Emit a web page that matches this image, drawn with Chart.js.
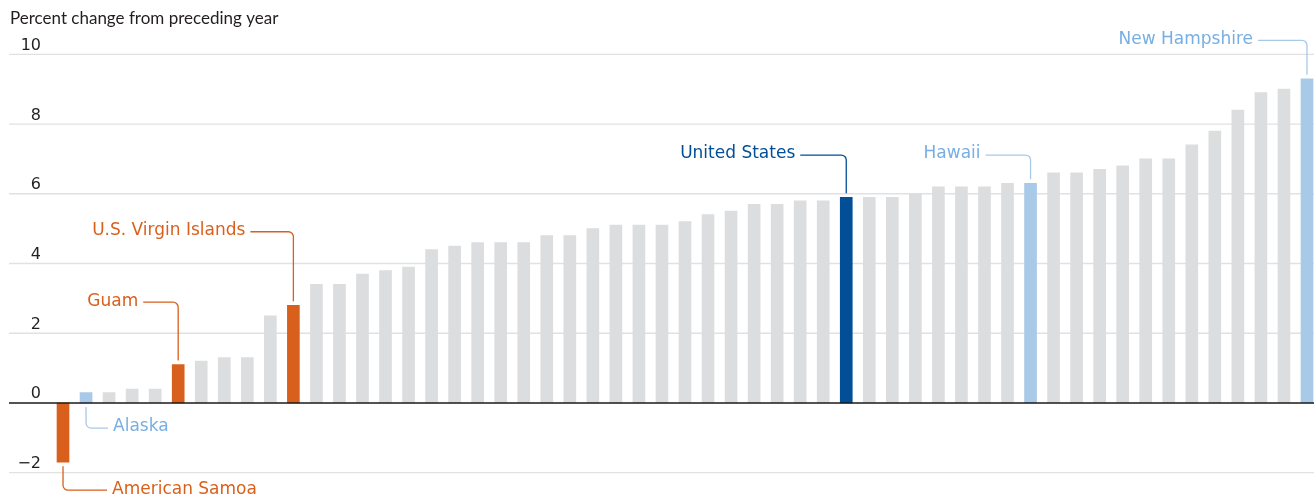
<!DOCTYPE html>
<html>
<head>
<meta charset="utf-8">
<script src="https://cdn.jsdelivr.net/npm/chart.js@4.4.1/dist/chart.umd.min.js"></script>
<style>
  html, body { margin: 0; padding: 0; background: #fff; overflow: hidden; }
  #wrap { position: relative; width: 1320px; height: 499px; }
</style>
</head>
<body>
<div id="wrap"><canvas id="chart"></canvas></div>
<script>
// one bar per place, sorted by percent change; unnamed bars are unlabelled states
const places = [
  'American Samoa', 'Alaska', '', '', '', 'Guam', '', '', '', '', 'U.S. Virgin Islands',
  '', '', '', '', '', '', '', '', '', '', '', '', '', '', '', '', '', '', '', '', '', '', '',
  'United States', '', '', '', '', '', '', '', 'Hawaii', '', '', '', '', '', '', '', '', '', '', '',
  'New Hampshire'
];
const pctChange = [
  -1.7, 0.3, 0.3, 0.4, 0.4, 1.1, 1.2, 1.3, 1.3, 2.5, 2.8,
  3.4, 3.4, 3.7, 3.8, 3.9, 4.4, 4.5, 4.6, 4.6, 4.6, 4.8, 4.8, 5.0, 5.1, 5.1, 5.1, 5.2, 5.4, 5.5, 5.7, 5.7, 5.8, 5.8,
  5.9, 5.9, 5.9, 6.0, 6.2, 6.2, 6.2, 6.3, 6.3, 6.6, 6.6, 6.7, 6.8, 7.0, 7.0, 7.4, 7.8, 8.4, 8.9, 9.0,
  9.3
];
const territories = ['American Samoa', 'Guam', 'U.S. Virgin Islands'];
const calledOut = ['Alaska', 'Hawaii', 'New Hampshire'];
const nation = 'United States';

const yTicks = [-2, 0, 2, 4, 6, 8, 10];
const yTickLabels = ['\u22122', '0', '2', '4', '6', '8', '10'];
const axisTitle = 'Percent change from preceding year';

const ORANGE = '#d9601c';
const NAVY = '#024e97';
const SKY = '#a9c9e8';
const SKY_TEXT = '#78aee2';
const GREY = '#dcdddf';

function barColor(name) {
  if (territories.includes(name)) return ORANGE;
  if (calledOut.includes(name)) return SKY;
  if (name === nation) return NAVY;
  return GREY;
}

// callouts: where the leader elbows (in axis units), which side the text sits on, arm length
const callouts = [
  { name: 'American Samoa', at: -2.5, side: 'right', arm: 44 },
  { name: 'Alaska', at: -0.72, side: 'right', arm: 22 },
  { name: 'Guam', at: 2.89, side: 'left', arm: 35 },
  { name: 'U.S. Virgin Islands', at: 4.91, side: 'left', arm: 43 },
  { name: 'United States', at: 7.11, side: 'left', arm: 46 },
  { name: 'Hawaii', at: 7.11, side: 'left', arm: 45 },
  { name: 'New Hampshire', at: 10.4, side: 'left', arm: 49 }
];

const LABEL_FONT = '17px "DejaVu Sans"';

const frame = {
  id: 'frame',
  beforeDatasetsDraw(chart) {
    const {ctx, width, scales: {y}} = chart;
    ctx.save();
    ctx.strokeStyle = '#e1e1e1';
    ctx.lineWidth = 1.3;
    ctx.fillStyle = '#231f20';
    ctx.font = '16px "DejaVu Sans"';
    ctx.textAlign = 'right';
    ctx.textBaseline = 'alphabetic';
    yTicks.forEach((v, i) => {
      const py = y.getPixelForValue(v);
      if (v !== 0) {
        ctx.beginPath();
        ctx.moveTo(9, py);
        ctx.lineTo(width, py);
        ctx.stroke();
      }
      ctx.fillText(yTickLabels[i], 41, py - 4.5);
    });
    ctx.textAlign = 'left';
    ctx.font = '17px Lato';
    ctx.fillText(axisTitle, 10, 24);
    ctx.restore();
  },
  afterDatasetsDraw(chart) {
    const {ctx, width, scales: {y}} = chart;
    const meta = chart.getDatasetMeta(0);
    ctx.save();

    // zero line
    const y0 = y.getPixelForValue(0);
    ctx.strokeStyle = '#1a1a1a';
    ctx.lineWidth = 1.5;
    ctx.beginPath();
    ctx.moveTo(9, y0);
    ctx.lineTo(width, y0);
    ctx.stroke();

    ctx.font = LABEL_FONT;
    ctx.textBaseline = 'middle';
    ctx.lineWidth = 1.3;
    const r = 5, gap = 4;
    callouts.forEach(c => {
      const idx = places.indexOf(c.name);
      const bar = meta.data[idx];
      const x = bar.x;
      const top = Math.min(bar.y, bar.base);
      const bottom = Math.max(bar.y, bar.base);
      const ly = y.getPixelForValue(c.at);
      const col = barColor(c.name);
      ctx.strokeStyle = col;
      ctx.fillStyle = col === SKY ? SKY_TEXT : col;
      ctx.beginPath();
      if (c.side === 'left') {
        ctx.moveTo(x - c.arm, ly);
        ctx.arcTo(x, ly, x, ly + r, r);
        ctx.lineTo(x, top - gap);
        ctx.stroke();
        ctx.textAlign = 'right';
        ctx.fillText(c.name, x - c.arm - 5, ly - 1);
      } else {
        ctx.moveTo(x, bottom + gap);
        ctx.arcTo(x, ly, x + r, ly, r);
        ctx.lineTo(x + c.arm, ly);
        ctx.stroke();
        ctx.textAlign = 'left';
        ctx.fillText(c.name, x + c.arm + 5, ly - 1);
      }
    });
    ctx.restore();
  }
};

new Chart(document.getElementById('chart'), {
  type: 'bar',
  data: {
    labels: places,
    datasets: [{
      data: pctChange,
      backgroundColor: places.map(barColor),
      borderWidth: 0,
      barThickness: 12
    }]
  },
  options: {
    responsive: true,
    maintainAspectRatio: false,
    animation: false,
    layout: { padding: { left: 51.5, right: 1.5, top: 54.3, bottom: 26.3 } },
    plugins: { legend: { display: false }, tooltip: { enabled: false } },
    scales: {
      x: { display: false, offset: true },
      y: { display: false, min: -2, max: 10 }
    }
  },
  plugins: [frame]
});
</script>
</body>
</html>
